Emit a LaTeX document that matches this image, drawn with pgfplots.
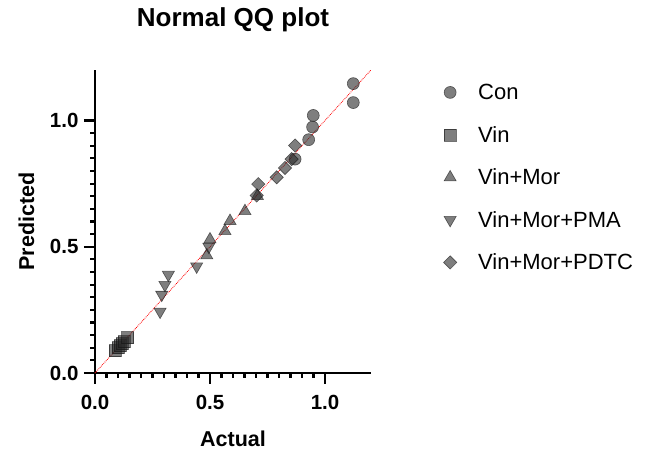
\documentclass[border=0pt]{standalone}
\usepackage{pgfplots}
\pgfplotsset{compat=1.18}
\usepackage{fontspec}
\setmainfont{Liberation Sans}
\definecolor{mfill}{RGB}{40,40,40}
\definecolor{medge}{RGB}{20,20,20}
\begin{document}
\begin{tikzpicture}[x=1pt,y=1pt]
\path[use as bounding box] (0,0) rectangle (649,457);
\begin{axis}[
  at={(95pt,84pt)}, anchor=origin,
  scale only axis, width=276pt, height=303pt,
  xmin=0, xmax=1.2, ymin=0, ymax=1.2,
  axis x line*=bottom, axis y line*=left,
  axis line style={line width=2.8pt},
  every tick/.style={black, line width=2.2pt},
  tick align=outside,
  major tick length=11pt, minor tick length=5pt,
  xtick={0,0.5,1}, ytick={0,0.5,1},
  minor tick num=9,
  /pgf/number format/assume math mode=true,
  /pgf/number format/.cd, fixed, fixed zerofill, precision=1, /pgfplots/.cd,
  ticklabel style={font=\bfseries\fontsize{20.5}{24}\selectfont},
  xticklabel style={yshift=-8pt},
  yticklabel style={xshift=-2pt},
  title={Normal QQ plot},
  title style={font=\bfseries\fontsize{26}{30}\selectfont, anchor=base, at={(axis description cs:0.5,1.125)}},
  xlabel={Actual},
  xlabel style={font=\bfseries\fontsize{21.5}{25}\selectfont, anchor=base, at={(axis description cs:0.5,-0.244)}},
  ylabel={Predicted},
  ylabel style={font=\bfseries\fontsize{21.5}{25}\selectfont, rotate=0, anchor=center, at={(axis description cs:-0.248,0.5)}},
  legend style={at={(axis description cs:1.262,0.958)}, anchor=north west, draw=none, fill=none,
    font=\fontsize{22}{26}\selectfont, row sep=23.5pt, inner sep=0pt,
    nodes={inner sep=1pt, text height=16pt, text depth=1pt}},
  legend cell align=left,
  legend image code/.code={\draw[mark repeat=2,mark phase=2,#1] plot coordinates {(-9pt,0pt)(0pt,0pt)(9pt,0pt)};
     \path[draw=none,fill=none] (-6pt,0pt) (27pt,0pt);},
  clip=false,
]
\addplot[red, densely dotted, line width=0.8pt, forget plot] coordinates {(0,0) (1.2,1.2)};
\addplot[only marks, mark=*, mark size=6pt, mark options={fill=mfill, draw=medge, fill opacity=0.6, draw opacity=0.6, line width=0.6pt}] coordinates {
(1.123,1.146) (1.123,1.071) (0.949,1.020) (0.946,0.974) (0.929,0.924) (0.870,0.847)};
\addlegendentry{Con}
\addplot[only marks, mark=square*, mark size=6pt, mark options={fill=mfill, draw=medge, fill opacity=0.6, draw opacity=0.6, line width=0.6pt}] coordinates {
(0.087,0.088) (0.100,0.100) (0.110,0.108) (0.118,0.116) (0.128,0.124) (0.142,0.140)};
\addlegendentry{Vin}
\addplot[only marks, mark=triangle*, mark size=7pt, mark options={fill=mfill, draw=medge, fill opacity=0.6, draw opacity=0.6, line width=0.6pt}] coordinates {
(0.706,0.701) (0.652,0.641) (0.587,0.602) (0.565,0.562) (0.500,0.529) (0.486,0.466)};
\addlegendentry{Vin+Mor}
\addplot[only marks, mark=triangle*, mark size=7pt, mark options={rotate=180, fill=mfill, draw=medge, fill opacity=0.6, draw opacity=0.6, line width=0.6pt}] coordinates {
(0.319,0.389) (0.304,0.349) (0.290,0.310) (0.283,0.243) (0.442,0.422) (0.495,0.500)};
\addlegendentry{Vin+Mor+PMA}
\addplot[only marks, mark=square*, mark size=4.7pt, mark options={rotate=45, fill=mfill, draw=medge, fill opacity=0.6, draw opacity=0.6, line width=0.6pt}] coordinates {
(0.710,0.748) (0.703,0.703) (0.790,0.775) (0.826,0.812) (0.855,0.847) (0.870,0.901)};
\addlegendentry{Vin+Mor+PDTC}
\end{axis}
\end{tikzpicture}
\end{document}
